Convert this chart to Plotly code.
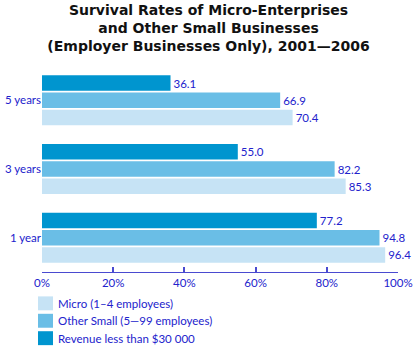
import plotly.graph_objects as go

categories = ["1 year", "3 years", "5 years"]
micro = [96.4, 85.3, 70.4]
other_small = [94.8, 82.2, 66.9]
revenue_low = [77.2, 55.0, 36.1]
series_names = ["Micro (1–4 employees)", "Other Small (5—99 employees)", "Revenue less than $30 000"]
x_ticks = [0, 20, 40, 60, 80, 100]

colors = ["#C6E3F5", "#6ABEE6", "#0095CF"]
blue_text = "#2222CC"
font_family = "Lato, 'Open Sans', sans-serif"

W, H = 417, 351
ML, MR, MT, MB = 42, 19, 65.5, 78.5
PW, PH = W - ML - MR, H - MT - MB


def px_to_paper(px, py):
    return (px - ML) / PW, (H - MB - py) / PH


fig = go.Figure()
for name, vals, col in zip(series_names, [micro, other_small, revenue_low], colors):
    fig.add_trace(go.Bar(
        y=categories, x=vals, name=name, orientation="h",
        marker=dict(color=col, line=dict(width=0)),
        text=vals, texttemplate="%{x:.1f}", textposition="outside",
        textfont=dict(color=blue_text, size=11.5, family=font_family),
        cliponaxis=False, showlegend=False,
    ))

# Manual legend (swatches + labels) below the plot
legend_rows_y = [304, 321.5, 339]
for name, col, cy in zip(series_names, colors, legend_rows_y):
    x0, y0 = px_to_paper(38, cy + 7)
    x1, y1 = px_to_paper(53, cy - 7)
    fig.add_shape(type="rect", xref="paper", yref="paper", x0=x0, x1=x1, y0=y0, y1=y1,
                  fillcolor=col, line=dict(width=0), layer="above")
    tx, ty = px_to_paper(56, cy)
    fig.add_annotation(xref="paper", yref="paper", x=tx, y=ty, xanchor="left", yanchor="middle",
                       text=name, showarrow=False,
                       font=dict(family=font_family, size=11.5, color=blue_text))

fig.update_layout(
    width=W, height=H,
    margin=dict(l=ML, r=MR, t=MT, b=MB, autoexpand=False),
    paper_bgcolor="white", plot_bgcolor="white",
    barmode="group", bargap=0.246, bargroupgap=0.1,
    title=dict(
        text="Survival Rates of Micro-Enterprises<br>and Other Small Businesses<br>(Employer Businesses Only), 2001—2006",
        x=0.5, xanchor="center", xref="container", yref="container", y=0.957, yanchor="top",
        font=dict(family="'DejaVu Sans', Verdana, sans-serif", size=14, color="#111111", weight="bold"),
    ),
    xaxis=dict(
        range=[0, 100], tickvals=x_ticks, ticktext=[f"{v}%" for v in x_ticks],
        showgrid=False, zeroline=False, showline=True, linecolor="#4A4AD0", linewidth=1,
        ticks="inside", ticklen=5, tickcolor="#4A4AD0", tickwidth=1.5,
        tickfont=dict(family=font_family, size=11.5, color=blue_text),
        automargin=False, fixedrange=True,
    ),
    yaxis=dict(
        categoryorder="array", categoryarray=categories,
        showgrid=False, zeroline=False, showline=False, ticks="",
        ticklabelstandoff=0, automargin=False,
        tickfont=dict(family=font_family, size=11.5, color=blue_text),
    ),
    showlegend=False,
)

fig.write_html("out.html")
